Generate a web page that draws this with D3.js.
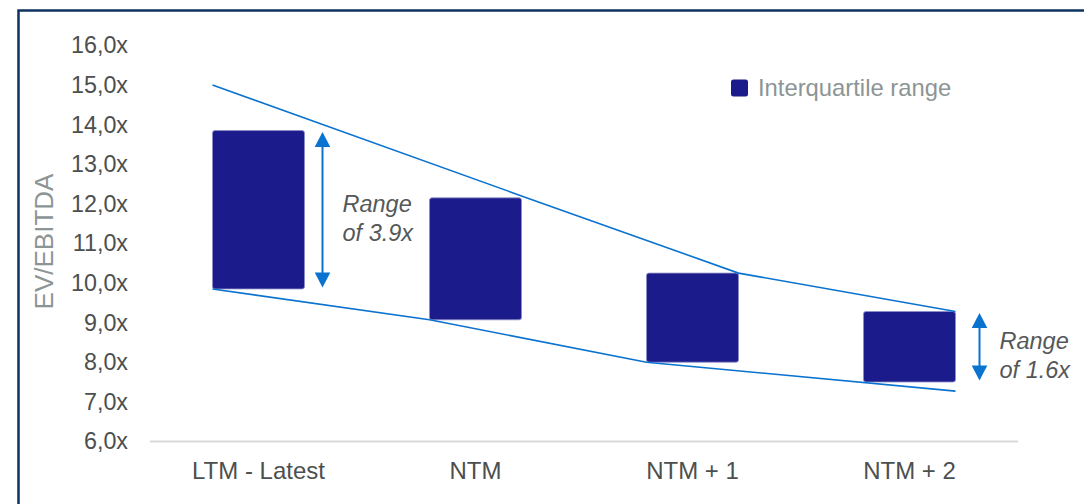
<!DOCTYPE html>
<html>
<head>
<meta charset="utf-8">
<script src="https://cdn.jsdelivr.net/npm/d3@7"></script>
<style>
  html, body { margin: 0; padding: 0; background: #ffffff; }
  svg { display: block; }
  text { font-family: "Liberation Sans", Arial, sans-serif; }
</style>
</head>
<body>
<script>
// ---- data ----
const categories = ["LTM - Latest", "NTM", "NTM + 1", "NTM + 2"];
const q1Values = [9.85, 9.07, 8.0, 7.5];       // interquartile low
const q3Values = [13.85, 12.15, 10.25, 9.28];  // interquartile high
const upperEnvelope = [15.0, 12.2, 10.25, 9.28];
const upperEdges = ["left", "right", "right", "right"];
const lowerEnvelope = [9.85, 9.07, 8.0, 7.27];
const lowerEdges = ["left", "left", "left", "right"];
const yTicks = [6, 7, 8, 9, 10, 11, 12, 13, 14, 15, 16];
const legendLabel = "Interquartile range";
const yTitle = "EV/EBITDA";
const noteCategories = ["LTM - Latest", "NTM + 2"];
const noteLines = [["Range", "of 3.9x"], ["Range", "of 1.6x"]];

// ---- layout ----
const W = 1084, H = 504;
const plotLeft = 150, plotRight = 1018, yTop = 45.4, yBottom = 441.4;
const barColor = "#1b1b8c", lineColor = "#0a72cf", arrowColor = "#0a72cf";
const noteOffsets = [18, 24];

const svg = d3.select("body").append("svg").attr("width", W).attr("height", H);
svg.append("rect").attr("width", W).attr("height", H).attr("fill", "#fff");

// border (top + left visible)
svg.append("path").attr("d", `M18.5,${H + 10}V10.5H${W + 10}`)
  .attr("fill", "none").attr("stroke", "#0e3360").attr("stroke-width", 2.5);

const x = d3.scaleBand().domain(categories).range([plotLeft, plotRight])
  .paddingInner(0.576).paddingOuter(0.288);
const y = d3.scaleLinear().domain([6, 16]).range([yBottom, yTop]);
const fmt = v => v.toFixed(1).replace(".", ",") + "x";

// y axis labels
const yAxis = d3.axisLeft(y).tickValues(yTicks).tickFormat(fmt).tickSize(0).tickPadding(0);
const gy = svg.append("g").attr("transform", "translate(128,0)").call(yAxis);
gy.select(".domain").remove();
gy.selectAll("text").attr("font-size", 23.3).attr("fill", "#4d4f4f")
  .attr("font-family", "'Liberation Sans', Arial, sans-serif");

// baseline
svg.append("line").attr("x1", plotLeft).attr("x2", plotRight)
  .attr("y1", y(6)).attr("y2", y(6)).attr("stroke", "#d9d9d9").attr("stroke-width", 2);

// x axis labels
const xAxis = d3.axisBottom(x).tickSize(0).tickPadding(0);
const gx = svg.append("g").attr("transform", "translate(0,461.5)").call(xAxis);
gx.select(".domain").remove();
gx.selectAll("text").attr("font-size", 24).attr("fill", "#4d4f4f").attr("dy", "0.71em")
  .attr("font-family", "'Liberation Sans', Arial, sans-serif");

// y title
svg.append("text")
  .attr("transform", `translate(53,${(173 + 310) / 2}) rotate(-90)`)
  .attr("text-anchor", "middle").attr("font-size", 26).attr("fill", "#8c9595")
  .text(yTitle);

// bars
const barData = categories.map((c, i) => ({ c, lo: q1Values[i], hi: q3Values[i] }));
svg.append("g").selectAll("rect").data(barData).join("rect")
  .attr("x", d => x(d.c)).attr("width", x.bandwidth())
  .attr("y", d => y(d.hi)).attr("height", d => y(d.lo) - y(d.hi))
  .attr("rx", 2.5).attr("fill", barColor).attr("stroke", "#8e8fc8").attr("stroke-width", 0.8);

// envelope lines
const edgeX = (c, e) => e === "left" ? x(c) : x(c) + x.bandwidth();
const lineGen = d3.line().x(d => d[0]).y(d => d[1]);
const upperPts = categories.map((c, i) => [edgeX(c, upperEdges[i]), y(upperEnvelope[i])]);
const lowerPts = categories.map((c, i) => [edgeX(c, lowerEdges[i]), y(lowerEnvelope[i])]);
[upperPts, lowerPts].forEach(pts => {
  svg.append("path").attr("d", lineGen(pts)).attr("fill", "none")
    .attr("stroke", lineColor).attr("stroke-width", 1.6);
});

// range annotations
noteCategories.forEach((c, k) => {
  const i = categories.indexOf(c);
  const ax = x(c) + x.bandwidth() + noteOffsets[k];
  const yTopA = y(q3Values[i]) + 1.5, yBotA = y(q1Values[i]) - 1.5;
  const head = 15, hw = 7.8;
  const g = svg.append("g");
  g.append("line").attr("x1", ax).attr("x2", ax).attr("y1", yTopA + head - 1).attr("y2", yBotA - head + 1)
    .attr("stroke", arrowColor).attr("stroke-width", 2);
  g.append("path").attr("d", `M${ax},${yTopA}L${ax - hw},${yTopA + head}L${ax + hw},${yTopA + head}Z`).attr("fill", arrowColor);
  g.append("path").attr("d", `M${ax},${yBotA}L${ax - hw},${yBotA - head}L${ax + hw},${yBotA - head}Z`).attr("fill", arrowColor);
  const mid = (yTopA + yBotA) / 2 + 8;
  const t = g.append("text").attr("x", ax + 20).attr("font-size", 23.5).attr("font-style", "italic")
    .attr("fill", "#555859");
  noteLines[k].forEach((ln, j) => {
    t.append("tspan").attr("x", ax + 20).attr("y", mid - 14 + j * 29).attr("dy", "0.35em").text(ln);
  });
});

// legend
svg.append("rect").attr("x", 731).attr("y", 79.5).attr("width", 17).attr("height", 17)
  .attr("rx", 2.5).attr("fill", barColor);
svg.append("text").attr("x", 758).attr("y", 96).attr("font-size", 23.8)
  .attr("fill", "#8c9595").text(legendLabel);
</script>
</body>
</html>
